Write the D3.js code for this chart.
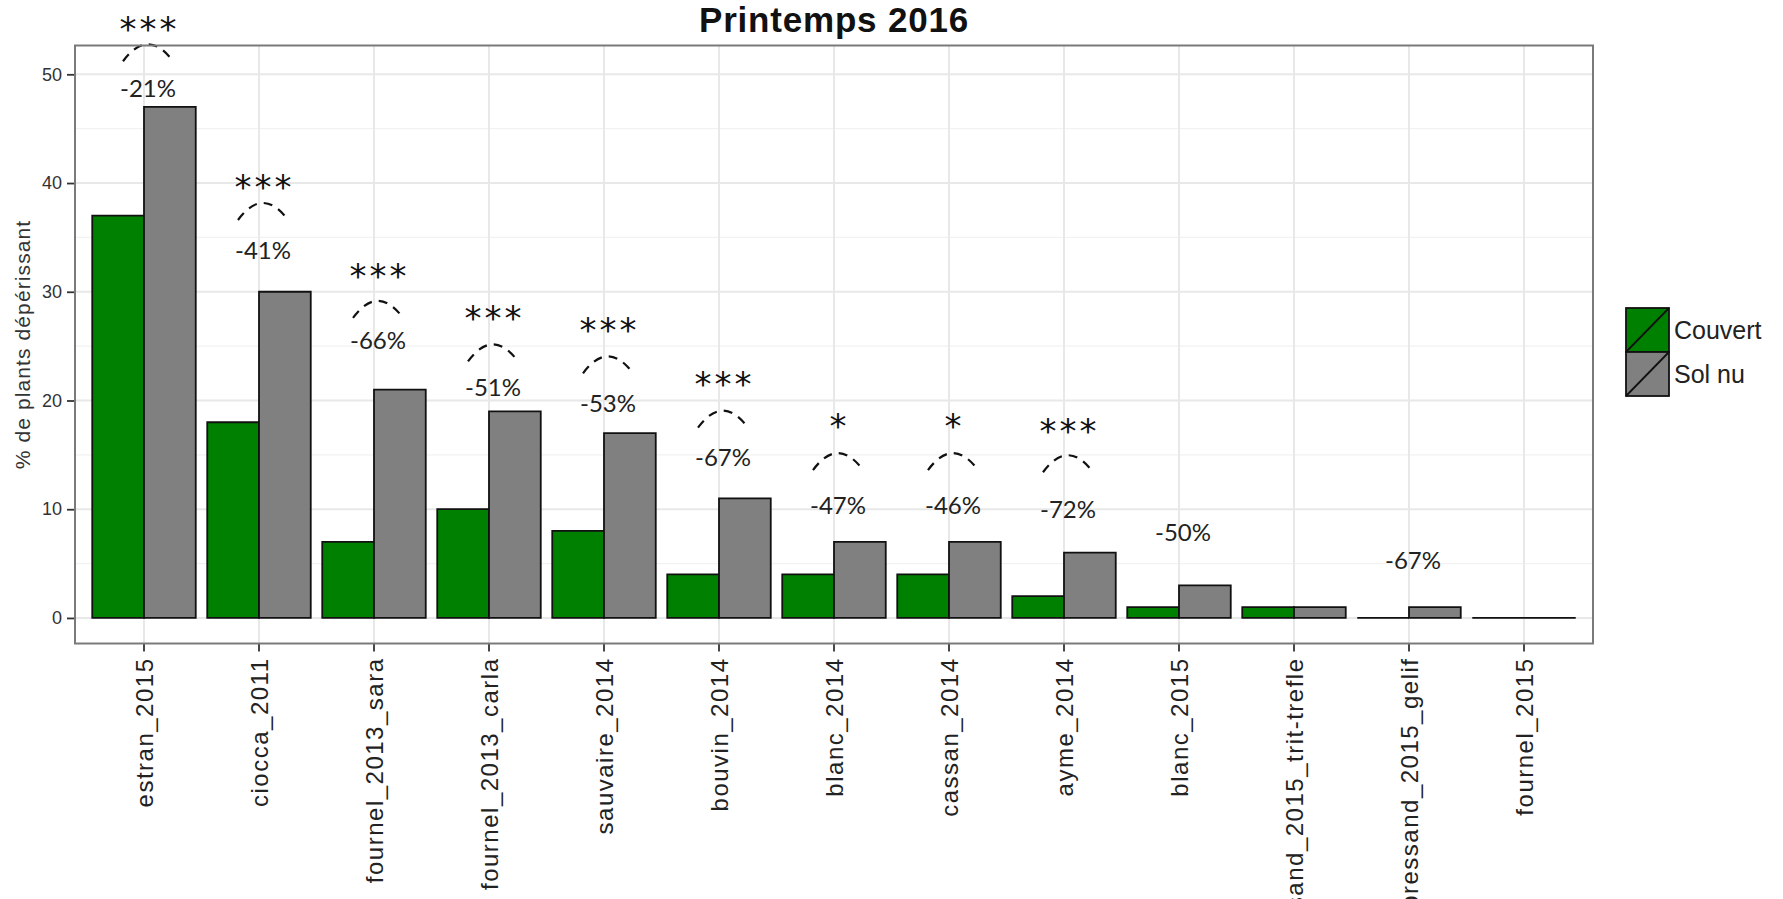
<!DOCTYPE html>
<html>
<head>
<meta charset="utf-8">
<script src="https://cdn.jsdelivr.net/npm/d3@7"></script>
<style>
  body { margin: 0; background: #fff; }
  svg { display: block; }
</style>
</head>
<body>
<div id="chart"></div>
<script>
// Data
const sites = ["estran_2015", "ciocca_2011", "fournel_2013_sara", "fournel_2013_carla",
    "sauvaire_2014", "bouvin_2014", "blanc_2014", "cassan_2014", "ayme_2014",
    "blanc_2015", "bressand_2015_trit-trefle", "bressand_2015_gelif", "fournel_2015"];
const couvert = [37, 18, 7, 10, 8, 4, 4, 4, 2, 1, 1, 0, 0];
const solNu = [47, 30, 21, 19, 17, 11, 7, 7, 6, 3, 1, 1, 0];
const signif = ["***", "***", "***", "***", "***", "***", "*", "*", "***", "", "", "", ""];
const reduction = ["-21%", "-41%", "-66%", "-51%", "-53%", "-67%", "-47%", "-46%", "-72%", "-50%", "", "-67%", ""];
// heights (in % units) of the annotations
const starLevel = [54.9, 40.4, 32.2, 28.4, 27.3, 22.3, 18.4, 18.4, 18.0, null, null, null, null];
const arcLevel = [51.2, 36.6, 27.6, 23.6, 22.5, 17.5, 13.6, 13.6, 13.4, null, null, null, null];
const labelLevel = [48.7, 33.8, 25.5, 21.2, 19.7, 14.8, 10.4, 10.4, 10.0, 7.9, null, 5.3, null];
const groups = ["Couvert", "Sol nu"];
const yTicks = [0, 10, 20, 30, 40, 50];
const yMinor = [5, 15, 25, 35, 45];

const W = 1783, H = 899;
const panel = { left: 75, right: 1593, top: 45.5, bottom: 643.5 };
const colors = { "Couvert": "#008000", "Sol nu": "#808080" };

const svg = d3.select("#chart").append("svg")
    .attr("width", W)
    .attr("height", H);

const rows = sites.map((s, i) => ({
    site: s, Couvert: couvert[i], "Sol nu": solNu[i],
    signif: signif[i], reduction: reduction[i],
    star: starLevel[i], arc: arcLevel[i], label: labelLevel[i]
}));

const x = d3.scaleBand()
    .domain(sites)
    .range([panel.left, panel.right])
    .paddingInner(0)
    .paddingOuter(0.1);

const xSub = d3.scaleBand()
    .domain(groups)
    .range([x.bandwidth() * 0.05, x.bandwidth() * 0.95]);

const y = d3.scaleLinear()
    .domain([-2.35, 52.65])
    .range([panel.bottom, panel.top]);

// grid
const grid = svg.append("g");
grid.selectAll(".minor")
    .data(yMinor)
    .enter().append("line")
    .attr("x1", panel.left).attr("x2", panel.right)
    .attr("y1", d => y(d)).attr("y2", d => y(d))
    .attr("stroke", "#f2f2f2").attr("stroke-width", 1.2);
grid.selectAll(".major")
    .data(yTicks)
    .enter().append("line")
    .attr("x1", panel.left).attr("x2", panel.right)
    .attr("y1", d => y(d)).attr("y2", d => y(d))
    .attr("stroke", "#e8e8e8").attr("stroke-width", 2);
grid.selectAll(".vmajor")
    .data(sites)
    .enter().append("line")
    .attr("x1", d => x(d) + x.bandwidth() / 2).attr("x2", d => x(d) + x.bandwidth() / 2)
    .attr("y1", panel.top).attr("y2", panel.bottom)
    .attr("stroke", "#e8e8e8").attr("stroke-width", 2);

// bars (paths so zero height bars still show their outline)
const barG = svg.append("g").selectAll("g")
    .data(rows)
    .enter().append("g")
    .attr("transform", d => `translate(${x(d.site)},0)`);

barG.selectAll("path")
    .data(d => groups.map(k => ({ key: k, value: d[k] })))
    .enter().append("path")
    .attr("d", d => {
        const x0 = xSub(d.key), w = xSub.bandwidth();
        const y0 = y(0), y1 = y(d.value);
        return `M${x0},${y0}V${y1}H${x0 + w}V${y0}Z`;
    })
    .attr("fill", d => colors[d.key])
    .attr("stroke", "#111")
    .attr("stroke-width", 1.8);

// annotations
const ann = svg.append("g");
const cx = d => x(d.site) + x.bandwidth() / 2 + 4;
const starSize = 34;

ann.selectAll(".stars")
    .data(rows.filter(d => d.signif))
    .enter().append("text")
    .attr("x", d => cx(d) + 1.5)
    .attr("y", d => y(d.star) + starSize * 0.6)
    .attr("text-anchor", "middle")
    .style("font-family", "'DejaVu Sans', sans-serif")
    .style("font-size", starSize + "px")
    .style("letter-spacing", "3px")
    .style("fill", "#111")
    .text(d => d.signif);

ann.selectAll(".arc")
    .data(rows.filter(d => d.arc != null))
    .enter().append("path")
    .attr("d", d => {
        const c = cx(d), b = y(d.arc);
        return `M${c - 25},${b} Q${c},${b - 34} ${c + 25},${b}`;
    })
    .attr("fill", "none")
    .attr("stroke", "#111")
    .attr("stroke-width", 2.2)
    .attr("stroke-dasharray", "9,7");

ann.selectAll(".pct")
    .data(rows.filter(d => d.reduction))
    .enter().append("text")
    .attr("x", d => cx(d))
    .attr("y", d => y(d.label))
    .attr("dy", "0.36em")
    .attr("text-anchor", "middle")
    .style("font-family", "Lato, 'Open Sans', sans-serif")
    .style("font-size", "24px")
    .style("fill", "#222")
    .text(d => d.reduction);

// axes
const yAxis = svg.append("g")
    .attr("transform", `translate(${panel.left},0)`)
    .call(d3.axisLeft(y).tickValues(yTicks).tickSize(8).tickPadding(5));
yAxis.select(".domain").remove();
yAxis.selectAll("line").attr("stroke", "#333").attr("stroke-width", 1.8);
yAxis.selectAll("text")
    .style("font-family", "'Liberation Sans', Arial, sans-serif")
    .style("font-size", "18px")
    .style("fill", "#333");

const xAxis = svg.append("g")
    .attr("transform", `translate(0,${panel.bottom})`)
    .call(d3.axisBottom(x).tickSize(8).tickPadding(0));
xAxis.select(".domain").remove();
xAxis.selectAll("line").attr("stroke", "#333").attr("stroke-width", 1.8);
xAxis.selectAll("text")
    .attr("transform", "rotate(-90)")
    .attr("x", -14)
    .attr("y", 0)
    .attr("dy", "0.36em")
    .attr("text-anchor", "end")
    .style("font-family", "'Liberation Sans', Arial, sans-serif")
    .style("font-size", "24px")
    .style("letter-spacing", "1.5px")
    .style("fill", "#222");

// panel border
svg.append("rect")
    .attr("x", panel.left).attr("y", panel.top)
    .attr("width", panel.right - panel.left)
    .attr("height", panel.bottom - panel.top)
    .attr("fill", "none")
    .attr("stroke", "#7a7a7a")
    .attr("stroke-width", 2);

// y axis title
svg.append("text")
    .attr("transform", `translate(30,${(panel.top + panel.bottom) / 2}) rotate(-90)`)
    .attr("text-anchor", "middle")
    .style("font-family", "'Liberation Sans', Arial, sans-serif")
    .style("font-size", "21px")
    .style("letter-spacing", "1.1px")
    .style("fill", "#333")
    .text("% de plants dépérissant");

// title
svg.append("text")
    .attr("x", (panel.left + panel.right) / 2)
    .attr("y", 32)
    .attr("text-anchor", "middle")
    .style("font-family", "'Liberation Sans', Arial, sans-serif")
    .style("font-weight", "bold")
    .style("font-size", "35px")
    .style("letter-spacing", "0.8px")
    .style("fill", "#111")
    .text("Printemps 2016");

// legend
const legend = svg.selectAll(".legend")
    .data(groups)
    .enter().append("g")
    .attr("class", "legend")
    .attr("transform", (d, i) => `translate(1626,${308 + i * 44})`);

legend.append("rect")
    .attr("width", 43)
    .attr("height", 44)
    .attr("fill", d => colors[d])
    .attr("stroke", "#111")
    .attr("stroke-width", 1.8);

legend.append("line")
    .attr("x1", 0).attr("y1", 44)
    .attr("x2", 43).attr("y2", 0)
    .attr("stroke", "#111")
    .attr("stroke-width", 1.8);

legend.append("text")
    .attr("x", 48)
    .attr("y", 22)
    .attr("dy", "0.36em")
    .style("font-family", "'Liberation Sans', Arial, sans-serif")
    .style("font-size", "25px")
    .style("fill", "#222")
    .text(d => d);
</script>
</body>
</html>
